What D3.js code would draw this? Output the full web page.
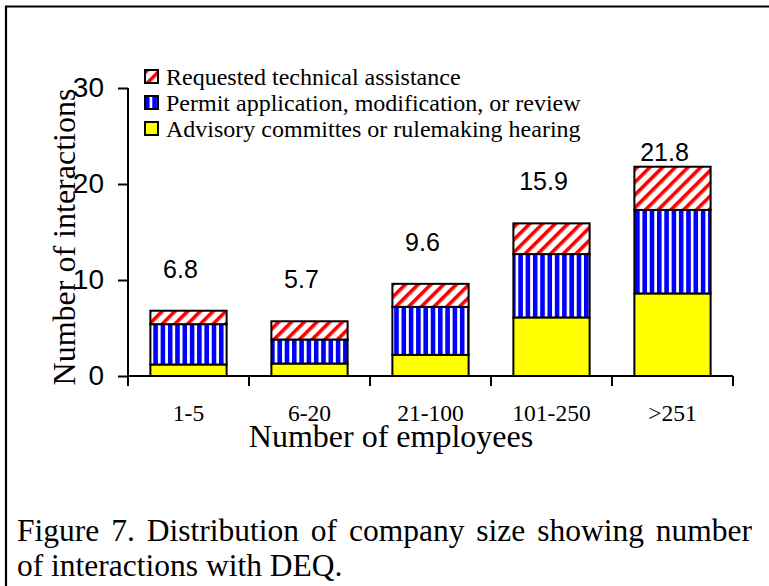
<!DOCTYPE html>
<html>
<head>
<meta charset="utf-8">
<script src="https://cdn.jsdelivr.net/npm/d3@7"></script>
<style>
  body { margin: 0; background: #fff; }
  text { fill: #000; }
</style>
</head>
<body>
<svg id="chart" width="769" height="586"></svg>
<script>
// values
const categories = ["1-5", "6-20", "21-100", "101-250", ">251"];
const advisory = [1.2, 1.3, 2.2, 6.1, 8.6];
const permit = [4.2, 2.5, 5.0, 6.6, 8.7];
const technical = [1.4, 1.9, 2.4, 3.2, 4.5];
const totals = [6.8, 5.7, 9.6, 15.9, 21.8];
const yTicks = [0, 10, 20, 30];
const seriesKeys = ["advisory", "permit", "technical"];
const legendLabels = [
  "Requested technical assistance",
  "Permit application, modification, or review",
  "Advisory committes or rulemaking hearing"
];
const legendKeys = ["technical", "permit", "advisory"];

const svg = d3.select("#chart");
const serif = "'Liberation Serif', 'Times New Roman', serif";
const sans = "'Liberation Sans', Arial, sans-serif";

// hatch patterns
const defs = svg.append("defs");
const red = defs.append("pattern")
  .attr("id", "hatch-technical")
  .attr("patternUnits", "userSpaceOnUse")
  .attr("width", 9).attr("height", 9)
  .attr("patternTransform", "rotate(45)");
red.append("rect").attr("width", 9).attr("height", 9).attr("fill", "#fff");
red.append("rect").attr("width", 3.6).attr("height", 9).attr("fill", "#ff0000");

const blue = defs.append("pattern")
  .attr("id", "hatch-permit")
  .attr("patternUnits", "userSpaceOnUse")
  .attr("width", 7.3).attr("height", 10);
blue.append("rect").attr("width", 7.3).attr("height", 10).attr("fill", "#fff");
blue.append("rect").attr("width", 4.6).attr("height", 10).attr("fill", "#0000ff");

const fills = {
  advisory: "#ffff00",
  permit: "url(#hatch-permit)",
  technical: "url(#hatch-technical)"
};

// frame around the figure
svg.append("path")
  .attr("d", "M6,586 V6.5 H769")
  .attr("fill", "none")
  .attr("stroke", "#000")
  .attr("stroke-width", 2.2);

const x = d3.scaleBand().domain(categories).range([128, 733]).paddingInner(0.37).paddingOuter(0.185);
const y = d3.scaleLinear().domain([0, 30]).range([376, 88]);

const rows = categories.map((c, i) => ({
  cat: c, advisory: advisory[i], permit: permit[i], technical: technical[i]
}));
const stacked = d3.stack().keys(seriesKeys)(rows);

// bars
svg.append("g").selectAll("g")
  .data(stacked)
  .join("g")
  .attr("fill", d => fills[d.key])
  .selectAll("rect")
  .data(d => d)
  .join("rect")
  .attr("x", d => x(d.data.cat))
  .attr("y", d => y(d[1]))
  .attr("width", x.bandwidth())
  .attr("height", d => y(d[0]) - y(d[1]))
  .attr("stroke", "#000")
  .attr("stroke-width", 2);

// y axis
const yAxis = svg.append("g")
  .attr("transform", "translate(128,0)")
  .call(d3.axisLeft(y).tickValues(yTicks).tickSize(10).tickSizeOuter(0).tickPadding(14));
yAxis.select(".domain").remove();
yAxis.selectAll(".tick line").attr("stroke-width", 2);
yAxis.selectAll("text")
  .style("font-family", sans).style("font-size", "28px").attr("fill", "#000");
svg.append("line")
  .attr("x1", 128).attr("x2", 128)
  .attr("y1", y(30)).attr("y2", y(0) + 10)
  .attr("stroke", "#000").attr("stroke-width", 2);

// x axis (ticks between categories)
const edges = categories.map(c => x(c) - x.step() * x.paddingInner() / 2);
edges.push(x.range()[1]);
svg.append("line")
  .attr("x1", x.range()[0]).attr("x2", x.range()[1])
  .attr("y1", y(0)).attr("y2", y(0))
  .attr("stroke", "#000").attr("stroke-width", 2);
svg.append("g").selectAll("line")
  .data(edges)
  .join("line")
  .attr("x1", d => d).attr("x2", d => d)
  .attr("y1", y(0)).attr("y2", y(0) + 10)
  .attr("stroke", "#000").attr("stroke-width", 2);
svg.append("g").selectAll("text")
  .data(categories)
  .join("text")
  .attr("x", d => x(d) + x.bandwidth() / 2)
  .attr("y", 421)
  .attr("text-anchor", "middle")
  .style("font-family", serif).style("font-size", "23.5px")
  .text(d => d);

// total labels above bars
svg.append("g").selectAll("text")
  .data(totals)
  .join("text")
  .attr("x", (d, i) => x(categories[i]) + x.bandwidth() / 2 - 8)
  .attr("y", d => Math.max(y(d) - 33, y(22.4)))
  .attr("text-anchor", "middle")
  .style("font-family", sans).style("font-size", "25px")
  .text(d => d.toFixed(1));

// axis titles
svg.append("text")
  .attr("transform", "translate(75,237) rotate(-90)")
  .attr("text-anchor", "middle")
  .style("font-family", serif).style("font-size", "32px")
  .text("Number of interactions");
svg.append("text")
  .attr("x", 391).attr("y", 447)
  .attr("text-anchor", "middle")
  .style("font-family", serif).style("font-size", "32px")
  .text("Number of employees");

// legend
const legend = svg.append("g").selectAll("g")
  .data(legendKeys)
  .join("g")
  .attr("transform", (d, i) => `translate(145,${70 + i * 26})`);
legend.append("rect")
  .attr("width", 13).attr("height", 13)
  .attr("fill", d => fills[d])
  .attr("stroke", "#000").attr("stroke-width", 2);
legend.append("text")
  .attr("x", 21).attr("y", 15)
  .style("font-family", serif).style("font-size", "24px")
  .text((d, i) => legendLabels[i]);

// caption, first line stretched to the figure width
const caption = svg.append("g").style("font-family", serif).style("font-size", "31.5px");
const line1 = caption.append("text").attr("x", 17).attr("y", 541)
  .text("Figure 7. Distribution of company size showing number");
caption.append("text").attr("x", 17).attr("y", 576)
  .text("of interactions with DEQ.");
const natural = line1.node().getComputedTextLength();
const gaps = line1.text().split(" ").length - 1;
line1.style("word-spacing", `${Math.max(0, (735 - natural) / gaps)}px`);
</script>
</body>
</html>
